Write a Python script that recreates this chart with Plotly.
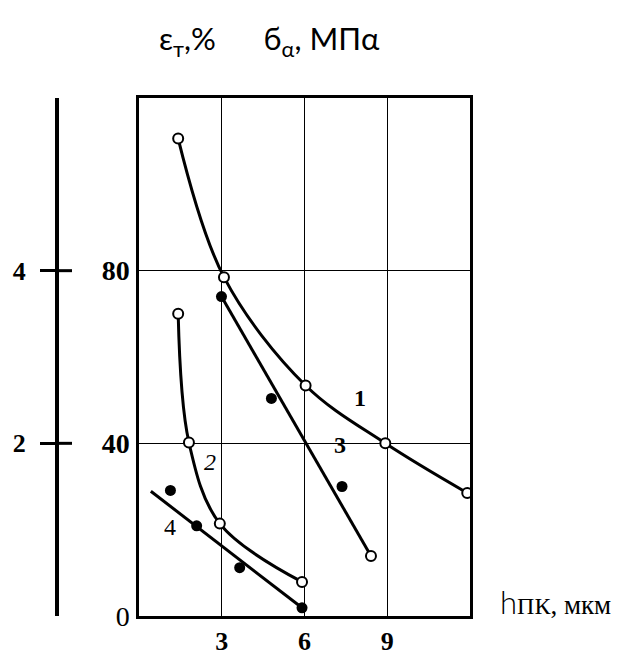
import plotly.graph_objects as go

# Curve 1 (open circles, smooth)
c1_x = [1.42, 3.08, 6.04, 8.93, 11.9]
c1_y = [110.6, 78.5, 53.4, 40.0, 28.5]
# Curve 2 (open circles, smooth)
c2_x = [1.42, 1.81, 2.93, 5.91]
c2_y = [70.0, 40.2, 21.4, 7.9]
# Curve 3 (straight line, filled points + open end point)
c3_line_x = [2.99, 8.41]
c3_line_y = [74.0, 13.9]
c3_pts_x = [2.99, 4.80, 7.36]
c3_pts_y = [74.0, 50.4, 30.0]
c3_open_x = [8.41]
c3_open_y = [13.9]
# Curve 4 (straight line, filled points)
c4_line_x = [0.43, 5.91]
c4_line_y = [28.9, 1.9]
c4_pts_x = [1.14, 2.09, 3.65, 5.91]
c4_pts_y = [29.1, 20.9, 11.2, 1.9]

x_ticks = [3, 6, 9]
x_ticktext = ["<b>3</b>", "<b>6</b>", "<b>9</b>"]
y_ticks = [0, 40, 80]
y_ticktext = ["0", "<b>40</b>", "<b>80</b>"]
eps_ticks = [2, 4]
eps_ticktext = ["<b>2</b>", "<b>4</b>"]

curve_labels = ["1", "2", "3", "4"]
label_x = [8.01, 2.57, 7.29, 1.12]
label_y = [50.5, 35.7, 39.6, 20.6]
label_style = [("bold", "normal"), ("normal", "italic"), ("bold", "normal"), ("normal", "normal")]

LINE_W = 3
open_marker = dict(symbol="circle", size=10, color="white", line=dict(color="black", width=2))
filled_marker = dict(symbol="circle", size=11, color="black", line=dict(color="black", width=0))

fig = go.Figure()
fig.add_trace(go.Scatter(x=c1_x, y=c1_y, mode="lines+markers", line=dict(color="black", width=LINE_W, shape="spline", smoothing=1.0), marker=open_marker))
fig.add_trace(go.Scatter(x=c2_x, y=c2_y, mode="lines+markers", line=dict(color="black", width=LINE_W, shape="spline", smoothing=1.0), marker=open_marker))
fig.add_trace(go.Scatter(x=c3_line_x, y=c3_line_y, mode="lines", line=dict(color="black", width=LINE_W)))
fig.add_trace(go.Scatter(x=c3_pts_x, y=c3_pts_y, mode="markers", marker=filled_marker))
fig.add_trace(go.Scatter(x=c3_open_x, y=c3_open_y, mode="markers", marker=open_marker))
fig.add_trace(go.Scatter(x=c4_line_x, y=c4_line_y, mode="lines", line=dict(color="black", width=LINE_W)))
fig.add_trace(go.Scatter(x=c4_pts_x, y=c4_pts_y, mode="markers", marker=filled_marker))
# invisible trace on the left epsilon axis
fig.add_trace(go.Scatter(x=[None], y=[None], yaxis="y2", mode="markers", showlegend=False))

SERIF = "Liberation Serif, Times New Roman, serif"

# page body has an 8px margin, so the figure is drawn 8px smaller and offset
OFF = 8
W, H = 620 - OFF, 657 - OFF
ML, MR, MT, MB = 57 - OFF, W - (470 - OFF), 98 - OFF, H - (616 - OFF)
plot_w = W - ML - MR
plot_h = H - MT - MB
x_dom0 = (139 - 57) / plot_w

fig.update_layout(
    width=W, height=H, autosize=False,
    margin=dict(l=ML, r=MR, t=MT, b=MB, pad=0),
    plot_bgcolor="white", paper_bgcolor="white",
    showlegend=False,
    xaxis=dict(domain=[x_dom0, 1], range=[0, 12], tickvals=x_ticks, ticktext=x_ticktext,
               showgrid=True, gridcolor="black", gridwidth=1.3, zeroline=False, automargin=False,
               showline=True, linecolor="black", linewidth=2.5, mirror=True,
               ticks="", tickfont=dict(family=SERIF, size=26, color="black"), ticklabelstandoff=0),
    yaxis=dict(range=[0, 120], tickvals=y_ticks, ticktext=y_ticktext,
               showgrid=True, gridcolor="black", gridwidth=1.3, zeroline=False, automargin=False,
               showline=True, linecolor="black", linewidth=2.5, mirror=True,
               ticks="", tickfont=dict(family=SERIF, size=28, color="black"), ticklabelstandoff=1),
    yaxis2=dict(range=[0, 6], overlaying="y", anchor="free", position=0, side="left", automargin=False,
                tickvals=eps_ticks, ticktext=eps_ticktext,
                showgrid=False, zeroline=False, showline=True, linecolor="black", linewidth=4,
                ticks="outside", ticklen=15, tickwidth=3, tickcolor="black",
                tickfont=dict(family=SERIF, size=26, color="black"), ticklabelstandoff=9),
)

# inner half of the crossing ticks on the epsilon axis
for v in eps_ticks:
    fig.add_shape(type="line", xref="paper", yref="y2", x0=0, x1=(72 - 57) / plot_w, y0=v, y1=v,
                  line=dict(color="black", width=3))

for t, lx, ly, (w, st) in zip(curve_labels, label_x, label_y, label_style):
    fig.add_annotation(x=lx, y=ly, xref="x", yref="y", text=t, showarrow=False,
                       font=dict(family=SERIF, size=24, color="black", weight=w, style=st))

# title
fig.add_annotation(xref="paper", yref="paper", x=(269 - 57) / plot_w, y=(616 - 40) / plot_h,
                   text="ε<sub>т</sub>,%      ϭ<sub>α</sub>, МПα", showarrow=False,
                   font=dict(family="Lato, Open Sans, sans-serif", size=31, color="black"),
                   xanchor="center", yanchor="middle")
# x axis title
fig.add_annotation(xref="paper", yref="paper", x=(498 - 57) / plot_w, y=(616 - 602) / plot_h,
                   text="<span style='font-family:Lato, sans-serif; font-size:31px; font-weight:300'>h</span>"
                        "<span style='font-size:24px'>ПК</span>, мкм",
                   showarrow=False,
                   font=dict(family=SERIF, size=27, color="black"),
                   xanchor="left", yanchor="middle")

fig.write_html("out.html")
